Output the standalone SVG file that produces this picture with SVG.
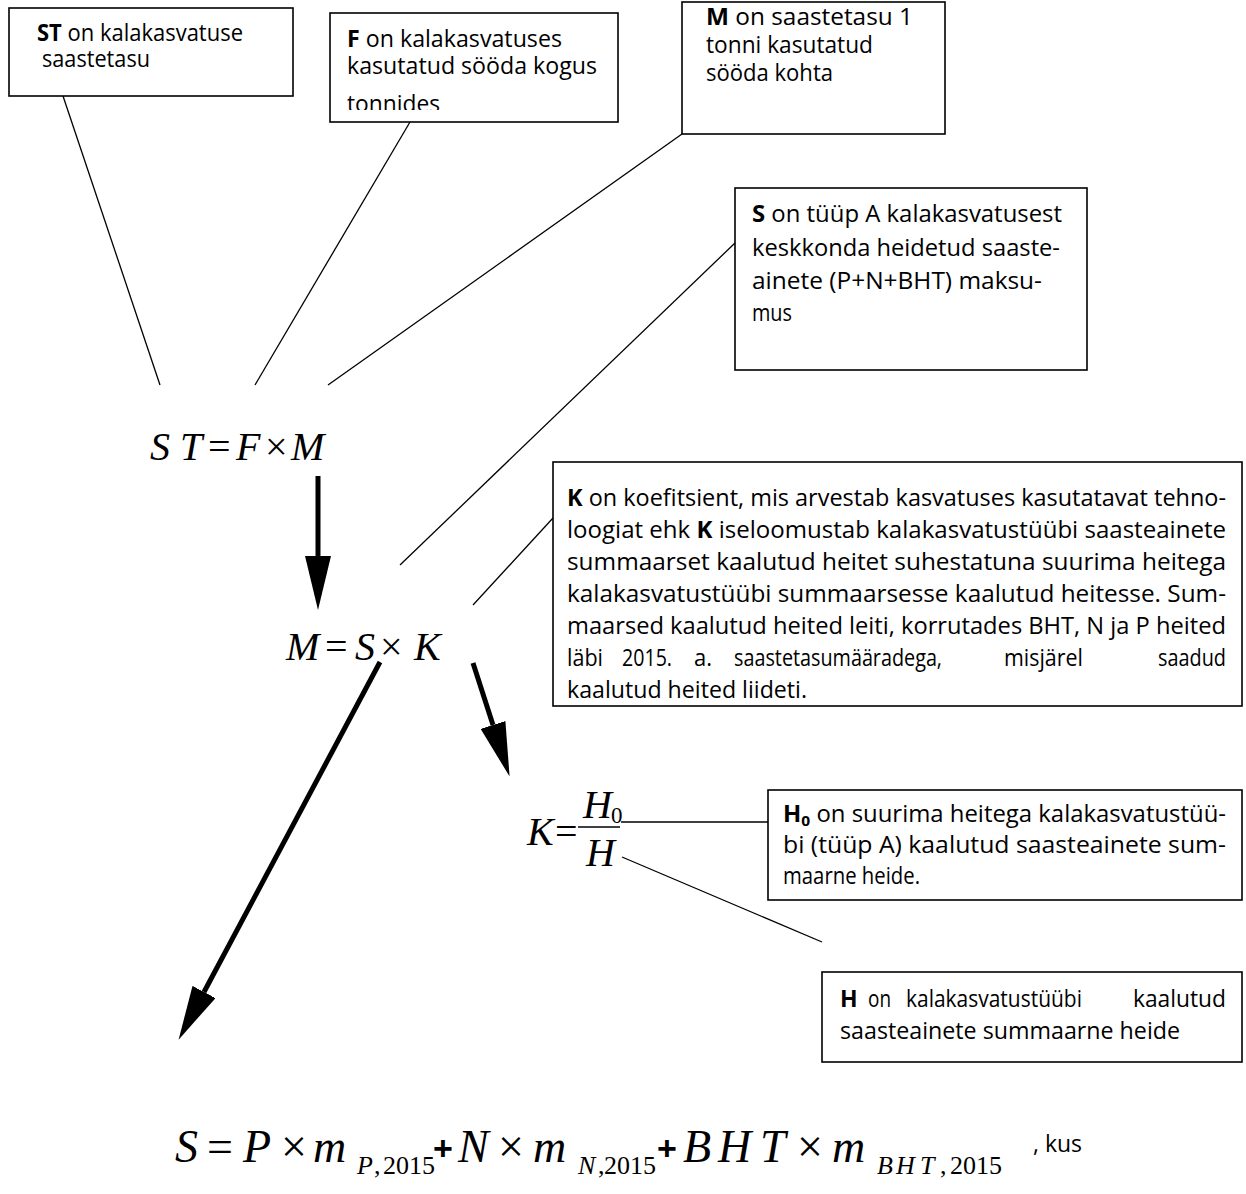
<svg xmlns="http://www.w3.org/2000/svg" width="1246" height="1194" viewBox="0 0 1246 1194">
  <style>
    .box { fill: #fff; stroke: #000; stroke-width: 1.6; }
    .t { font-family: "Open Sans", "Liberation Sans", sans-serif; font-size: 23px; fill: #000; }
    .b { font-weight: bold; }
    .m { font-family: "Liberation Serif", "Times New Roman", serif; font-style: italic; font-size: 40px; fill: #000; }
    .u { font-style: normal; }
    .big { font-size: 46px; }
    .sub { font-size: 26px; }
    .idx { font-size: 23px; }
    .plus { font-family: "Liberation Sans", sans-serif; font-weight: bold; font-size: 34px; fill: #000; }
    .lead { stroke: #000; stroke-width: 1.3; fill: none; }
    .arr { stroke: #000; stroke-width: 5; fill: none; marker-end: url(#head); }
  </style>
  <defs>
    <marker id="head" viewBox="0 0 54 26" refX="0" refY="13" markerWidth="54" markerHeight="26" markerUnits="userSpaceOnUse" orient="auto">
      <path d="M0,0 L54,13 L0,26 z" fill="#000"/>
    </marker>
    <clipPath id="fclip">
      <rect x="331" y="14" width="286" height="96"/>
    </clipPath>
  </defs>

  <rect width="1246" height="1194" fill="#fff"/>

  <!-- leader lines and arrows -->
  <g id="connectors">
    <line class="lead" x1="63" y1="96" x2="160" y2="385"/>
    <line class="lead" x1="410" y1="122" x2="255" y2="385"/>
    <line class="lead" x1="682" y1="134" x2="328" y2="385"/>
    <line class="lead" x1="735" y1="243" x2="400" y2="565"/>
    <line class="lead" x1="553" y1="518" x2="473" y2="605"/>
    <line class="lead" x1="621" y1="822" x2="768" y2="822"/>
    <line class="lead" x1="622" y1="857" x2="822" y2="942"/>
    <line class="arr" x1="318" y1="476" x2="318" y2="556"/>
    <line class="arr" x1="473" y1="663" x2="493" y2="725"/>
    <line class="arr" x1="380" y1="662" x2="204" y2="992"/>
  </g>

  <!-- ST definition -->
  <g id="box-st">
    <rect class="box" x="9" y="8" width="284" height="88"/>
    <text class="t" x="37" y="41" textLength="206" lengthAdjust="spacingAndGlyphs"><tspan class="b">ST</tspan> on kalakasvatuse</text>
    <text class="t" x="42" y="67" textLength="108" lengthAdjust="spacingAndGlyphs">saastetasu</text>
  </g>

  <!-- F definition -->
  <g id="box-f">
    <rect class="box" x="330" y="13" width="288" height="109"/>
    <g clip-path="url(#fclip)">
      <text class="t" x="347" y="47" textLength="215" lengthAdjust="spacingAndGlyphs"><tspan class="b">F</tspan> on kalakasvatuses</text>
      <text class="t" x="347" y="74" textLength="250" lengthAdjust="spacingAndGlyphs">kasutatud sööda kogus</text>
      <text class="t" x="347" y="112" textLength="93" lengthAdjust="spacingAndGlyphs">tonnides</text>
    </g>
  </g>

  <!-- M definition -->
  <g id="box-m">
    <rect class="box" x="682" y="2" width="263" height="132"/>
    <text class="t" x="706" y="25" textLength="207" lengthAdjust="spacingAndGlyphs"><tspan class="b">M</tspan> on saastetasu 1</text>
    <text class="t" x="706" y="53" textLength="167" lengthAdjust="spacingAndGlyphs">tonni kasutatud</text>
    <text class="t" x="706" y="81" textLength="127" lengthAdjust="spacingAndGlyphs">sööda kohta</text>
  </g>

  <!-- S definition -->
  <g id="box-s">
    <rect class="box" x="735" y="188" width="352" height="182"/>
    <text class="t" x="752" y="222" textLength="310" lengthAdjust="spacingAndGlyphs"><tspan class="b">S</tspan> on tüüp A kalakasvatusest</text>
    <text class="t" x="752" y="256" textLength="308" lengthAdjust="spacingAndGlyphs">keskkonda heidetud saaste-</text>
    <text class="t" x="752" y="289" textLength="290" lengthAdjust="spacingAndGlyphs">ainete (P+N+BHT) maksu-</text>
    <text class="t" x="752" y="321" textLength="40" lengthAdjust="spacingAndGlyphs">mus</text>
  </g>

  <!-- K definition -->
  <g id="box-k">
    <rect class="box" x="553" y="462" width="689" height="244"/>
    <text class="t" x="567" y="506" textLength="659" lengthAdjust="spacingAndGlyphs"><tspan class="b">K</tspan> on koefitsient, mis arvestab kasvatuses kasutatavat tehno-</text>
    <text class="t" x="567" y="538" textLength="659" lengthAdjust="spacingAndGlyphs">loogiat ehk <tspan class="b">K</tspan> iseloomustab kalakasvatustüübi  saasteainete</text>
    <text class="t" x="567" y="570" textLength="659" lengthAdjust="spacingAndGlyphs">summaarset kaalutud heitet suhestatuna suurima heitega</text>
    <text class="t" x="567" y="602" textLength="659" lengthAdjust="spacingAndGlyphs">kalakasvatustüübi  summaarsesse kaalutud heitesse. Sum-</text>
    <text class="t" x="567" y="634" textLength="659" lengthAdjust="spacingAndGlyphs">maarsed kaalutud heited leiti, korrutades BHT, N ja P heited</text>
    <text class="t" x="567" y="666" textLength="36" lengthAdjust="spacingAndGlyphs">läbi</text>
    <text class="t" x="622" y="666" textLength="50" lengthAdjust="spacingAndGlyphs">2015.</text>
    <text class="t" x="694" y="666" textLength="18" lengthAdjust="spacingAndGlyphs">a.</text>
    <text class="t" x="734" y="666" textLength="208" lengthAdjust="spacingAndGlyphs">saastetasumääradega,</text>
    <text class="t" x="1004" y="666" textLength="79" lengthAdjust="spacingAndGlyphs">misjärel</text>
    <text class="t" x="1158" y="666" textLength="68" lengthAdjust="spacingAndGlyphs">saadud</text>
    <text class="t" x="567" y="698" textLength="240" lengthAdjust="spacingAndGlyphs">kaalutud heited liideti.</text>
  </g>

  <!-- H0 definition -->
  <g id="box-h0">
    <rect class="box" x="768" y="790" width="474" height="110"/>
    <text class="t" x="783" y="822" textLength="443" lengthAdjust="spacingAndGlyphs"><tspan class="b">H<tspan font-size="15" dy="4">0</tspan></tspan><tspan dy="-4"> on suurima heitega kalakasvatustüü-</tspan></text>
    <text class="t" x="783" y="853" textLength="443" lengthAdjust="spacingAndGlyphs">bi (tüüp A) kaalutud saasteainete sum-</text>
    <text class="t" x="783" y="884" textLength="137" lengthAdjust="spacingAndGlyphs">maarne heide.</text>
  </g>

  <!-- H definition -->
  <g id="box-h">
    <rect class="box" x="822" y="972" width="420" height="90"/>
    <text class="t b" x="840" y="1007">H</text>
    <text class="t" x="868" y="1007" textLength="23" lengthAdjust="spacingAndGlyphs">on</text>
    <text class="t" x="906" y="1007" textLength="176" lengthAdjust="spacingAndGlyphs">kalakasvatustüübi</text>
    <text class="t" x="1133" y="1007" textLength="93" lengthAdjust="spacingAndGlyphs">kaalutud</text>
    <text class="t" x="840" y="1039" textLength="340" lengthAdjust="spacingAndGlyphs">saasteainete summaarne heide</text>
  </g>

  <!-- ST = F x M -->
  <g id="eq-st">
    <text class="m" y="460"><tspan x="150">S</tspan><tspan x="180">T</tspan><tspan class="u" x="208">=</tspan><tspan x="236">F</tspan><tspan class="u" x="265">×</tspan><tspan x="291">M</tspan></text>
  </g>

  <!-- M = S x K -->
  <g id="eq-m">
    <text class="m" y="660"><tspan x="286">M</tspan><tspan class="u" x="325">=</tspan><tspan x="355">S</tspan><tspan class="u" x="380">×</tspan><tspan x="414">K</tspan></text>
  </g>

  <!-- K = H0 / H -->
  <g id="eq-k">
    <text class="m" x="527" y="845">K</text>
    <text class="m u" x="555" y="845">=</text>
    <line x1="578" y1="827" x2="620" y2="827" stroke="#000" stroke-width="1.5"/>
    <text class="m" x="583" y="818">H</text>
    <text class="m u idx" x="611" y="823">0</text>
    <text class="m" x="586" y="866">H</text>
  </g>

  <!-- S = P x m + N x m + BHT x m -->
  <g id="eq-s">
    <text class="m big" y="1162">
      <tspan x="175">S</tspan><tspan class="u" x="207">=</tspan><tspan x="243">P</tspan><tspan class="u" x="281">×</tspan><tspan x="313">m</tspan>
      <tspan x="458">N</tspan><tspan class="u" x="498">×</tspan><tspan x="533">m</tspan>
      <tspan x="683">B</tspan><tspan x="718">H</tspan><tspan x="760">T</tspan><tspan class="u" x="797">×</tspan><tspan x="832">m</tspan>
    </text>
    <text class="m sub" y="1174">
      <tspan x="357">P</tspan><tspan class="u" x="374">,</tspan><tspan class="u" x="383">2015</tspan>
      <tspan x="578">N</tspan><tspan class="u" x="598">,</tspan><tspan class="u" x="604">2015</tspan>
      <tspan x="877">B</tspan><tspan x="896">H</tspan><tspan x="920">T</tspan><tspan class="u" x="940">,</tspan><tspan class="u" x="950">2015</tspan>
    </text>
    <text class="plus" x="433" y="1160">+</text>
    <text class="plus" x="657" y="1160">+</text>
    <text class="t" x="1033" y="1152">, kus</text>
  </g>
</svg>
